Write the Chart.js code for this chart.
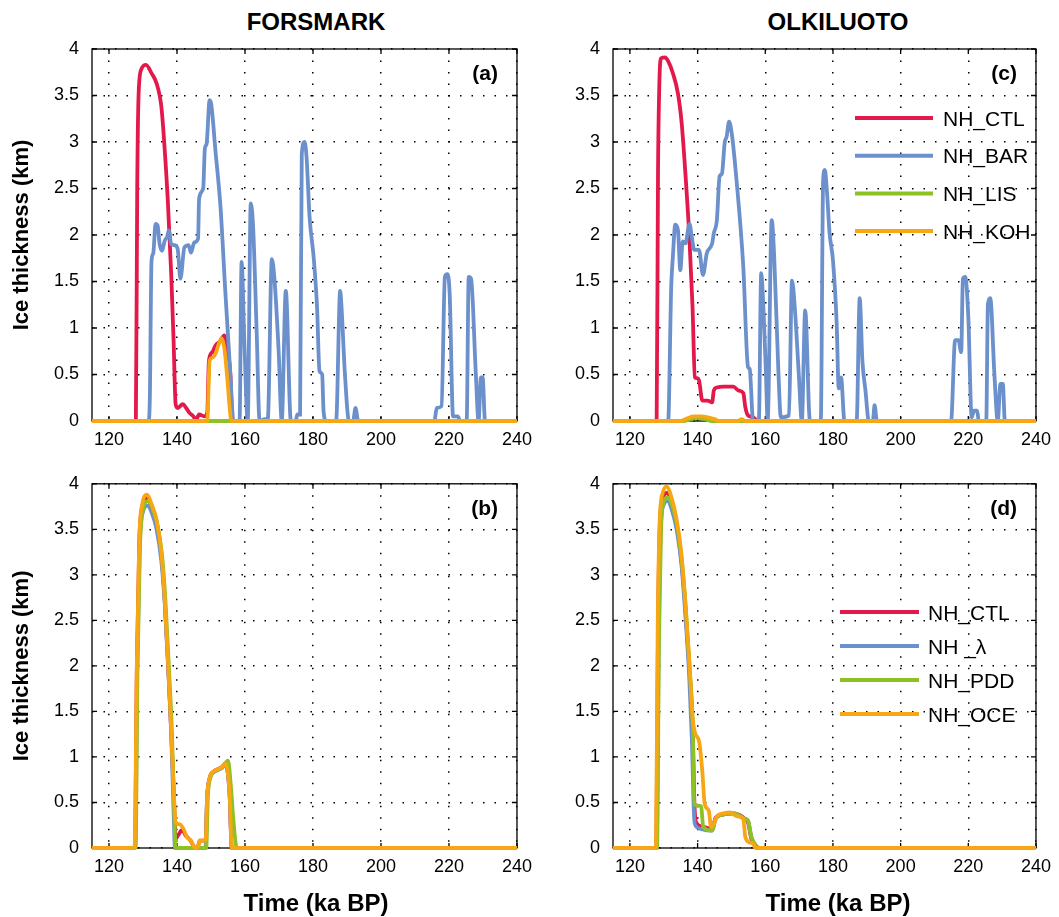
<!DOCTYPE html>
<html>
<head>
<meta charset="utf-8">
<script src="https://cdn.jsdelivr.net/npm/chart.js@4.4.1/dist/chart.umd.min.js"></script>
<style>
  body { margin: 0; background: #fff; }
  #wrap { position: relative; width: 1059px; height: 917px; overflow: hidden; }
  canvas { position: absolute; }
  .head { position: absolute; width: 400px; text-align: center; line-height: 28px;
          font: bold 24px "Liberation Sans", Arial, sans-serif; color: #000; }
</style>
</head>
<body>
<div id="wrap">
  <div class="head" style="left:116px; top:8px;">FORSMARK</div>
  <div class="head" style="left:638px; top:8px;">OLKILUOTO</div>
  <canvas id="pa" width="540" height="460" style="left:0; top:0;"></canvas>
  <canvas id="pc" width="519" height="460" style="left:540px; top:0;"></canvas>
  <canvas id="pb" width="540" height="457" style="left:0; top:460px;"></canvas>
  <canvas id="pd" width="519" height="457" style="left:540px; top:460px;"></canvas>
  <div class="head" style="left:116px; top:889px;">Time (ka BP)</div>
  <div class="head" style="left:638px; top:889px;">Time (ka BP)</div>
</div>
<script>
// axis ticks
const xTicks = [120, 140, 160, 180, 200, 220, 240];
const yTicks = [0, 0.5, 1, 1.5, 2, 2.5, 3, 3.5, 4];

const topLabels = ['NH_CTL', 'NH_BAR', 'NH_LIS', 'NH_KOH'];
const bottomLabels = ['NH_CTL', 'NH _\u03bb', 'NH_PDD', 'NH_OCE'];
const seriesColors = ['#E2194A', '#6B90CC', '#8DC124', '#F8A714'];

// [time ka BP, ice thickness km] -- Forsmark, top panel (a)
const fmCtl = [[115,0],[127.9,0],[128.3,2.5],[128.7,3.5],[129.5,3.78],[130.9,3.83],[132.5,3.74],[134,3.63],[135.4,3.38],[136.4,2.91],[137.3,2.37],[138.3,1.58],[139,0.86],[139.6,0.18],[140.2,0.14],[141.7,0.18],[142.7,0.14],[143.6,0.09],[145,0.04],[145.5,0],[146.5,0.07],[148,0.05],[148.9,0.09],[149.4,0.65],[150.4,0.74],[151.3,0.81],[152.8,0.86],[153.9,0.92],[154.7,0.79],[155.7,0.5],[156.3,0],[240,0]];
const fmBar = [[115,0],[131.6,0],[132,0.22],[132.5,1.72],[133,1.8],[133.7,2.12],[134.3,2.1],[134.9,1.9],[135.6,1.83],[136.4,1.94],[137.1,1.98],[137.6,2.05],[138.3,1.9],[139.3,1.89],[140.2,1.85],[141,1.53],[142.2,1.87],[143.4,1.89],[144.1,1.81],[145.1,1.92],[146.2,1.96],[146.5,2.39],[147.7,2.5],[148.2,2.93],[148.7,2.98],[149.6,3.45],[150.1,3.4],[151.3,2.91],[152.8,2.3],[154.2,1.4],[155.7,0.5],[156.6,0],[158.4,0],[159,1.71],[159.8,0.86],[160.8,0],[161.7,2.34],[162.4,2.08],[163.4,1],[164.3,0],[165.8,0.02],[166.7,0.02],[167.9,1.74],[168.7,1.51],[169.9,0.75],[170.8,0],[172,1.4],[173.5,0],[174.9,0],[175.4,0.07],[176.2,0.07],[176.7,2.87],[177.5,3],[178.1,2.84],[179,2.19],[180.2,1.76],[181.2,1.22],[181.9,0.54],[182.7,0.5],[183.1,0.11],[183.9,0],[186.8,0],[188,1.4],[188.4,1.22],[189.4,0.5],[190.6,0],[191.8,0],[192.5,0.14],[193.3,0],[215.7,0],[216.4,0.14],[217.8,0.16],[218.8,1.55],[219.5,1.58],[220.2,1.37],[221.2,0.05],[222.6,0.05],[223.3,0],[225.2,0],[225.8,1.55],[226.5,1.53],[227.9,0.5],[228.7,0],[229.4,0.47],[229.9,0.47],[230.6,0],[240,0]];
const fmLis = [[115,0],[240,0]];
const fmKoh = [[115,0],[148.9,0],[149.6,0.65],[150.4,0.68],[151.3,0.72],[152.3,0.83],[153.1,0.89],[153.9,0.79],[154.7,0.5],[155.5,0.14],[156,0],[240,0]];

// Olkiluoto, top panel (c)
const okCtl = [[115,0],[127.9,0],[128.3,2.66],[128.7,3.63],[129.2,3.9],[130.4,3.91],[131.3,3.87],[132.7,3.74],[134.2,3.52],[135.3,3.2],[136.4,2.66],[137.6,1.95],[138.5,1.23],[139.2,0.47],[139.8,0.46],[140.4,0.44],[141.4,0.22],[142.9,0.22],[144.3,0.2],[144.8,0.33],[145.7,0.36],[147.7,0.37],[150.6,0.37],[152,0.33],[153.5,0.3],[154.1,0.15],[154.9,0.06],[156.4,0.04],[157.3,0.01],[157.8,0],[240,0]];
const okBar = [[115,0],[131.3,0],[132.2,1.44],[132.7,1.77],[133.4,2.11],[134.2,2.05],[134.9,1.62],[135.6,1.93],[136.4,1.91],[137.6,2.12],[138.2,2],[139,1.84],[140.4,1.84],[141.6,1.57],[142.7,1.8],[144.3,1.91],[144.8,2.02],[145.7,2.16],[146.5,2.63],[147.2,2.66],[148,2.99],[148.6,3.06],[149.3,3.22],[150.1,3.09],[151.5,2.59],[153.5,1.66],[154.9,0.58],[155.4,0.56],[156.4,0],[158.1,0],[158.8,1.59],[159.2,1.41],[160.2,0.51],[160.7,0],[161.9,2.16],[162.6,1.8],[163.9,0.51],[164.6,0.04],[167,0.06],[167.9,1.51],[168.7,1.23],[169.9,0.51],[170.8,0],[171.8,1.19],[173.2,0],[176.4,0],[177.1,2.59],[177.6,2.7],[178.2,2.48],[179,2.02],[180,1.73],[181.1,1.05],[181.7,0.35],[182.4,0.47],[183.4,0],[187,0],[187.9,1.32],[188.7,0.65],[189.6,0.33],[190.6,0],[191.8,0],[192.3,0.17],[193,0],[214.9,0],[216.1,0.87],[217.1,0.87],[217.9,0.74],[218.4,1.53],[219.1,1.55],[220,1.12],[221,0.04],[221.7,0.11],[222.6,0.11],[223.1,0],[225.3,0],[225.8,1.26],[226.5,1.32],[227.7,0.51],[228.7,0],[229.5,0.4],[230.2,0.4],[230.8,0],[240,0]];
const okLis = [[115,0],[136,0],[138,0.02],[140,0.03],[142,0.02],[144,0],[240,0]];
const okKoh = [[115,0],[135,0],[137,0.03],[139,0.05],[141,0.05],[143,0.04],[145,0.02],[146.5,0],[152,0],[153,0.02],[154,0],[240,0]];

// Forsmark, bottom panel (b)
const fmCtl2 = [[115,0],[127.6,0],[128.2,2],[128.9,3.35],[129.8,3.75],[131.2,3.84],[132.5,3.76],[134,3.58],[135.4,3.22],[136.4,2.72],[137.4,2],[138.3,1.28],[139.1,0.56],[139.6,0.1],[140.5,0.15],[141.5,0.2],[142.5,0.14],[144,0.08],[145.1,0.01],[146,0],[146.7,0.08],[148.4,0.08],[148.9,0.58],[149.7,0.78],[150.8,0.84],[152.3,0.87],[153.3,0.89],[154.2,0.93],[154.9,0.84],[155.5,0.58],[156.1,0],[240,0]];
const fmLam = [[115,0],[127.7,0],[128.3,2],[129,3.3],[129.9,3.68],[131.3,3.76],[132.6,3.68],[134,3.5],[135.4,3.15],[136.4,2.68],[137.4,1.98],[138.3,1.25],[139,0.4],[139.4,0],[148.4,0],[148.8,0.5],[149.6,0.76],[150.8,0.83],[152.3,0.86],[153.3,0.88],[154.2,0.92],[154.9,0.83],[155.5,0.56],[156.1,0],[240,0]];
const fmPdd = [[115,0],[127.8,0],[128.4,2],[129.1,3.3],[130,3.72],[131.4,3.81],[132.7,3.74],[134.2,3.56],[135.6,3.22],[136.6,2.72],[137.6,2],[138.5,1.28],[139.2,0.4],[139.6,0],[148.6,0],[149.1,0.58],[149.9,0.78],[151,0.84],[152.5,0.87],[153.6,0.9],[155,0.96],[155.8,0.7],[156.6,0.3],[157.6,0],[240,0]];
const fmOce = [[115,0],[127.5,0],[128.2,2.02],[128.9,3.38],[129.8,3.78],[131.2,3.88],[132.5,3.78],[134,3.6],[135.4,3.24],[136.4,2.74],[137.4,2.02],[138.3,1.3],[139.1,0.58],[139.6,0.28],[140.8,0.26],[141.9,0.21],[142.9,0.12],[144.1,0.08],[145.1,0.01],[146,0],[146.7,0.08],[148.4,0.08],[148.9,0.58],[149.7,0.78],[150.8,0.84],[152.3,0.87],[153.3,0.89],[154.2,0.93],[154.9,0.84],[155.5,0.58],[156.1,0],[240,0]];

// Olkiluoto, bottom panel (d)
const okCtl2 = [[115,0],[127.8,0],[128.3,2.4],[128.9,3.6],[129.8,3.85],[130.9,3.9],[132.3,3.78],[133.7,3.56],[135.1,3.2],[136.3,2.68],[137.6,1.96],[138.5,1.35],[139.1,0.45],[139.6,0.28],[141,0.24],[143,0.22],[144.3,0.2],[145.3,0.33],[147.7,0.37],[150.6,0.38],[152.5,0.36],[154,0.32],[154.9,0.28],[155.9,0.1],[157,0.03],[158,0],[240,0]];
const okLam = [[115,0],[127.9,0],[128.5,2.3],[129.1,3.5],[130,3.77],[131.1,3.81],[132.5,3.7],[133.9,3.48],[135.2,3.12],[136.3,2.6],[137.5,1.9],[138.3,1.2],[139,0.32],[139.5,0.24],[141,0.21],[144.3,0.19],[145.3,0.32],[147.7,0.37],[150.6,0.38],[154,0.32],[154.9,0.3],[155.9,0.12],[157,0.03],[158,0],[240,0]];
const okPdd = [[115,0],[128,0],[128.6,2.3],[129.2,3.5],[130,3.8],[131.1,3.85],[132.6,3.75],[134,3.53],[135.3,3.17],[136.5,2.64],[137.7,1.95],[138.6,1.3],[139,0.48],[141,0.46],[141.7,0.23],[144.3,0.19],[145.3,0.32],[147.7,0.37],[150.6,0.38],[154,0.32],[154.9,0.3],[155.9,0.12],[157,0.04],[158.3,0],[240,0]];
const okOce = [[115,0],[127.7,0],[128.2,2.4],[128.8,3.6],[129.7,3.9],[130.8,3.97],[132.3,3.85],[133.7,3.63],[135.1,3.27],[136.3,2.74],[137.6,2.02],[138.5,1.44],[139.2,1.27],[140.5,1.16],[141.4,0.84],[142.1,0.48],[143.3,0.41],[144,0.23],[144.8,0.26],[145.8,0.35],[147.7,0.38],[149.6,0.39],[151.5,0.35],[153.5,0.32],[154.1,0.12],[155.4,0.06],[156.4,0.05],[157.1,0],[240,0]];

const FONT = '"Liberation Sans", Arial, sans-serif';

// frame with inward ticks, panel tag and in-plot legend
const framePlugin = {
  id: 'frame',
  beforeDatasetsDraw(chart) {
    const { ctx, chartArea: a, scales: { x, y } } = chart;
    ctx.save();
    ctx.strokeStyle = '#000';
    ctx.lineWidth = 1.3;
    ctx.strokeRect(a.left, a.top, a.right - a.left, a.bottom - a.top);
    ctx.beginPath();
    xTicks.forEach(v => {
      const px = x.getPixelForValue(v);
      ctx.moveTo(px, a.bottom); ctx.lineTo(px, a.bottom - 5);
      ctx.moveTo(px, a.top); ctx.lineTo(px, a.top + 5);
    });
    yTicks.forEach(v => {
      const py = y.getPixelForValue(v);
      ctx.moveTo(a.left, py); ctx.lineTo(a.left + 5, py);
      ctx.moveTo(a.right, py); ctx.lineTo(a.right - 5, py);
    });
    ctx.stroke();
    ctx.restore();
  },
  afterDraw(chart, args, opts) {
    const { ctx, chartArea: a } = chart;
    ctx.save();
    ctx.fillStyle = '#000';
    ctx.font = 'bold 21px ' + FONT;
    ctx.textAlign = 'right';
    ctx.textBaseline = 'middle';
    ctx.fillText(opts.tag, a.right - 19, a.top + 25);

    const lg = opts.legend;
    if (lg) {
      ctx.font = '21px ' + FONT;
      ctx.textAlign = 'left';
      chart.data.datasets.forEach((ds, i) => {
        const yy = lg.y + i * lg.dy;
        ctx.strokeStyle = ds.borderColor;
        ctx.lineWidth = 4;
        ctx.beginPath();
        ctx.moveTo(lg.x0, yy);
        ctx.lineTo(lg.x1, yy);
        ctx.stroke();
        ctx.fillText(ds.label, lg.tx, yy + 2);
      });
    }
    ctx.restore();
  }
};

function makePanel(id, series, labels, o) {
  const tickFont = { size: 18, family: FONT };
  return new Chart(document.getElementById(id), {
    type: 'line',
    data: {
      datasets: series.map((s, i) => ({
        label: labels[i],
        data: s.map(([t, v]) => ({ x: t, y: v })),
        borderColor: seriesColors[i],
        borderWidth: 3.8,
        pointRadius: 0,
        cubicInterpolationMode: 'monotone',
        clip: 4,
        order: 4 - i
      }))
    },
    options: {
      responsive: false,
      animation: false,
      events: [],
      layout: { padding: o.pad },
      plugins: {
        legend: { display: false },
        tooltip: { enabled: false },
        frame: { tag: o.tag, legend: o.legend }
      },
      scales: {
        x: {
          type: 'linear', min: 115, max: 240,
          afterBuildTicks: s => { s.ticks = xTicks.map(value => ({ value })); },
          afterFit: s => { s.height = o.xh; },
          grid: { color: '#000', lineWidth: 1.5, drawTicks: false },
          border: { display: false, dash: [1.5, 10] },
          ticks: { padding: 8, color: '#000', font: tickFont, callback: v => String(v) }
        },
        y: {
          type: 'linear', min: 0, max: 4,
          afterBuildTicks: s => { s.ticks = yTicks.map(value => ({ value })); },
          afterFit: s => { s.width = o.yw; },
          grid: { color: '#000', lineWidth: 1.5, drawTicks: false },
          border: { display: false, dash: [1.5, 10] },
          ticks: { padding: 13, color: '#000', font: tickFont, callback: v => String(v) },
          title: {
            display: o.yTitle, text: 'Ice thickness (km)', color: '#000',
            font: { size: 22, weight: 'bold', family: FONT },
            padding: { top: 9, bottom: 0 }
          }
        }
      }
    },
    plugins: [framePlugin]
  });
}

makePanel('pa', [fmCtl, fmBar, fmLis, fmKoh], topLabels,
  { pad: { top: 49, right: 18 }, xh: 39, yw: 92, yTitle: true, tag: '(a)' });
makePanel('pc', [okCtl, okBar, okLis, okKoh], topLabels,
  { pad: { top: 49, right: 13 }, xh: 39, yw: 73, yTitle: false, tag: '(c)',
    legend: { x0: 315, x1: 393, tx: 403, y: 118, dy: 37.7 } });
makePanel('pb', [fmCtl2, fmLam, fmPdd, fmOce], bottomLabels,
  { pad: { top: 16, right: 18 }, xh: 69, yw: 92, yTitle: true, tag: '(b)' });
makePanel('pd', [okCtl2, okLam, okPdd, okOce], bottomLabels,
  { pad: { top: 16, right: 13 }, xh: 69, yw: 73, yTitle: false, tag: '(d)',
    legend: { x0: 300, x1: 379, tx: 388, y: 152, dy: 34 } });
</script>
</body>
</html>
